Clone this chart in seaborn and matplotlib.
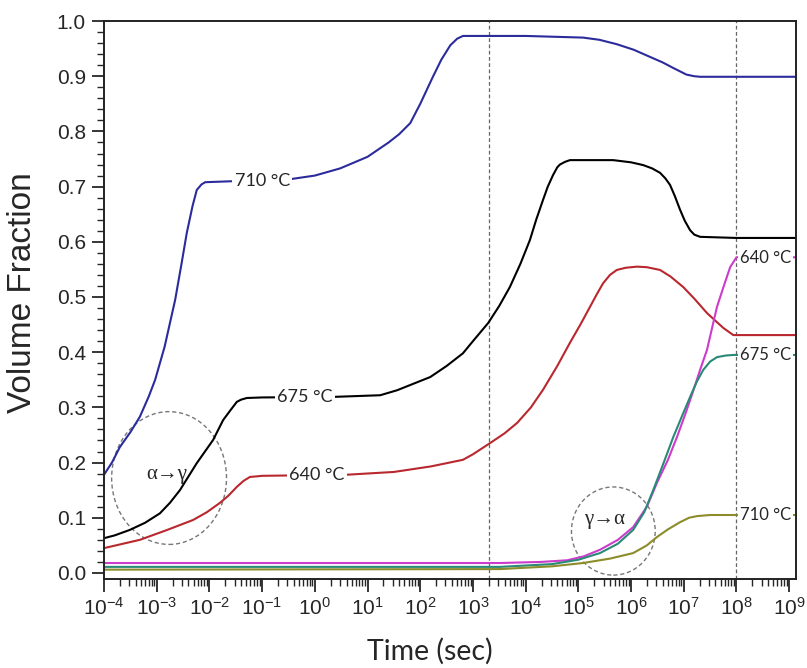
import numpy as np
import pandas as pd
import matplotlib
matplotlib.use("Agg")
import matplotlib.pyplot as plt
from matplotlib.patches import Ellipse
from matplotlib.ticker import MultipleLocator, FormatStrFormatter, LogLocator
import seaborn as sns

# ---- data (time given as log10 exponents, volume fractions) ----
blue_logt = [-4.0, -3.85, -3.70, -3.5, -3.32, -3.15, -3.03, -2.85, -2.65, -2.53, -2.43, -2.32,
             -2.24, -2.15, -2.08, -1.5, -0.43, 0.0, 0.48, 1.0, 1.4, 1.6, 1.81, 2.0, 2.24, 2.4,
             2.57, 2.7, 2.81, 4.0, 5.09, 5.4, 5.73, 6.05, 6.36, 6.6, 6.8, 7.05, 7.2, 7.31, 8.0, 9.13]
blue_y = [0.178, 0.200, 0.228, 0.255, 0.283, 0.320, 0.350, 0.410, 0.495, 0.560, 0.616, 0.665,
          0.694, 0.704, 0.708, 0.710, 0.714, 0.720, 0.733, 0.754, 0.780, 0.795, 0.815, 0.850, 0.899, 0.930,
          0.956, 0.968, 0.973, 0.973, 0.970, 0.966, 0.958, 0.948, 0.935, 0.925, 0.915, 0.903, 0.900, 0.899, 0.899, 0.899]

black_logt = [-4.0, -3.8, -3.51, -3.22, -2.94, -2.75, -2.56, -2.24, -1.93, -1.74, -1.6, -1.48,
              -1.4, -1.29, -1.0, 0.35, 1.24, 1.56, 2.19, 2.5, 2.81, 3.0, 3.29, 3.5, 3.70, 3.9,
              4.08, 4.2, 4.33, 4.42, 4.52, 4.6, 4.65, 4.75, 4.84, 5.66, 6.0, 6.23, 6.4, 6.55,
              6.65, 6.74, 6.83, 6.93, 7.02, 7.12, 7.2, 7.31, 8.0, 9.13]
black_y = [0.063, 0.068, 0.078, 0.091, 0.108, 0.127, 0.150, 0.199, 0.241, 0.277, 0.295, 0.310,
           0.314, 0.317, 0.318, 0.319, 0.322, 0.331, 0.355, 0.375, 0.398, 0.420, 0.453, 0.484, 0.518, 0.560,
           0.603, 0.640, 0.676, 0.700, 0.721, 0.735, 0.740, 0.745, 0.748, 0.748, 0.744, 0.739, 0.733, 0.725,
           0.715, 0.703, 0.683, 0.658, 0.638, 0.621, 0.613, 0.609, 0.607, 0.607]

red_logt = [-4.0, -3.32, -2.8, -2.31, -2.05, -1.8, -1.64, -1.48, -1.35, -1.23, -1.1, -1.0, 0.61,
            1.5, 2.2, 2.81, 3.0, 3.32, 3.6, 3.84, 4.1, 4.33, 4.6, 4.84, 5.05, 5.22, 5.35, 5.47,
            5.6, 5.73, 5.9, 6.11, 6.3, 6.55, 6.75, 6.99, 7.2, 7.44, 7.6, 7.75, 7.94, 8.0, 9.13]
red_y = [0.045, 0.060, 0.078, 0.096, 0.110, 0.127, 0.140, 0.156, 0.167, 0.174, 0.175, 0.176, 0.178,
         0.183, 0.193, 0.205, 0.215, 0.235, 0.253, 0.272, 0.300, 0.332, 0.375, 0.417, 0.452, 0.482, 0.505, 0.525,
         0.540, 0.549, 0.553, 0.555, 0.554, 0.549, 0.537, 0.518, 0.497, 0.471, 0.457, 0.444, 0.431, 0.431, 0.431]

magenta_logt = [-4.0, 3.51, 4.3, 4.79, 5.1, 5.41, 5.75, 6.04, 6.3, 6.49, 6.7, 6.87, 7.03, 7.18,
                7.31, 7.44, 7.63, 7.76, 7.88, 7.96, 8.0, 9.13]
magenta_y = [0.018, 0.018, 0.020, 0.023, 0.030, 0.042, 0.060, 0.083, 0.120, 0.163, 0.205, 0.246, 0.288, 0.330,
             0.368, 0.404, 0.482, 0.520, 0.554, 0.566, 0.572, 0.572]

teal_logt = [-4.0, 3.51, 4.5, 5.0, 5.41, 5.75, 6.04, 6.25, 6.42, 6.6, 6.8, 6.97, 7.12, 7.25,
             7.37, 7.5, 7.63, 7.8, 7.94, 8.0, 9.13]
teal_y = [0.011, 0.011, 0.016, 0.024, 0.036, 0.053, 0.078, 0.110, 0.150, 0.195, 0.246, 0.285, 0.319, 0.347,
          0.368, 0.383, 0.391, 0.394, 0.395, 0.395, 0.395]

olive_logt = [-4.0, 3.51, 4.5, 5.09, 5.6, 6.04, 6.3, 6.49, 6.7, 6.93, 7.1, 7.25, 7.5, 8.0, 9.13]
olive_y = [0.006, 0.007, 0.012, 0.018, 0.026, 0.036, 0.050, 0.065, 0.079, 0.092, 0.100, 0.103, 0.105, 0.105, 0.105]

series_names = ["710 a-g", "675 a-g", "640 a-g", "640 g-a", "675 g-a", "710 g-a"]
series_logt = [blue_logt, black_logt, red_logt, magenta_logt, teal_logt, olive_logt]
series_y = [blue_y, black_y, red_y, magenta_y, teal_y, olive_y]
colors = ["#2b2b9c", "#000000", "#b8282e", "#cc3ccc", "#2a8a78", "#8c8c2a"]

dashed_times = [2000.0, 1e8]

# ---- build table ----
rows = []
for name, lt, yy in zip(series_names, series_logt, series_y):
    for a, b in zip(lt, yy):
        rows.append({"series": name, "time": 10.0 ** a, "fraction": b})
df = pd.DataFrame(rows)

sns.set_style("ticks")
plt.rcParams["font.family"] = ["Liberation Sans", "DejaVu Sans"]
plt.rcParams["mathtext.fontset"] = "custom"
plt.rcParams["mathtext.rm"] = "Liberation Sans"
plt.rcParams["mathtext.it"] = "Liberation Sans:italic"

fig = plt.figure(figsize=(8.07, 6.68), dpi=100)
ax = fig.add_axes([0.1289, 0.1332, 0.8575, 0.8353])

for t in dashed_times:
    ax.axvline(t, color="#666666", lw=0.9, ls=(0, (3, 2)), zorder=1)

sns.lineplot(data=df, x="time", y="fraction", hue="series", palette=dict(zip(series_names, colors)),
             hue_order=series_names, estimator=None, sort=False, legend=False, lw=1.5, ax=ax, zorder=3)

ax.set_xscale("log")
ax.set_xlim(1e-4, 10 ** 9.13)
ax.set_ylim(-0.011, 1.0)

ax.xaxis.set_major_locator(LogLocator(base=10, numticks=20))
ax.xaxis.set_minor_locator(LogLocator(base=10, subs=np.arange(2, 10), numticks=200))
ax.yaxis.set_major_locator(MultipleLocator(0.1))
ax.yaxis.set_minor_locator(MultipleLocator(0.02))
ax.yaxis.set_major_formatter(FormatStrFormatter("%.1f"))

ax.tick_params(which="major", direction="out", length=9, width=1.1, labelsize=15, color="black",
               top=False, right=False, pad=4)
ax.tick_params(which="minor", direction="out", length=5, width=1.0, top=False, right=False)
for sp in ax.spines.values():
    sp.set_color("#222222")
    sp.set_linewidth(1.4)
    sp.set_zorder(7)

lab_font = ["Lato", "DejaVu Sans"]
ax.set_xlabel("Time (sec)", fontsize=20.5, family=lab_font)
ax.set_ylabel("Volume Fraction", fontsize=24, family=["Liberation Sans", "DejaVu Sans"])
ax.xaxis.set_label_coords(0.471, -0.105)
ax.yaxis.set_label_coords(-0.096, 0.513)

bbox = dict(boxstyle="square,pad=0.12", fc="white", ec="none")
ax.text(10 ** -1.0, 0.71, "710 °C", ha="center", va="center", fontsize=13, family=lab_font, bbox=bbox, zorder=5)
ax.text(10 ** -0.19, 0.318, "675 °C", ha="center", va="center", fontsize=13, family=lab_font, bbox=bbox, zorder=5)
ax.text(10 ** 0.04, 0.177, "640 °C", ha="center", va="center", fontsize=13, family=lab_font, bbox=bbox, zorder=5)
ax.text(10 ** 8.06, 0.571, "640 °C", ha="left", va="center", fontsize=12, family=lab_font, bbox=bbox, zorder=5)
ax.text(10 ** 8.06, 0.394, "675 °C", ha="left", va="center", fontsize=12, family=lab_font, bbox=bbox, zorder=5)
ax.text(10 ** 8.06, 0.105, "710 °C", ha="left", va="center", fontsize=12, family=lab_font, bbox=bbox, zorder=5)

ax.add_patch(Ellipse((0.094, 0.181), 0.166, 0.238, transform=ax.transAxes, fill=False,
                     ec="#777777", lw=1.0, ls=(0, (3, 2)), zorder=2))
ax.add_patch(Ellipse((0.736, 0.086), 0.121, 0.158, transform=ax.transAxes, fill=False,
                     ec="#777777", lw=1.0, ls=(0, (3, 2)), zorder=2))
ax.text(0.091, 0.188, "α→γ", transform=ax.transAxes, ha="center", va="center", fontsize=15,
        family=["Liberation Serif", "DejaVu Serif"], zorder=4)
ax.text(0.724, 0.106, "γ→α", transform=ax.transAxes, ha="center", va="center", fontsize=15,
        family=["Liberation Serif", "DejaVu Serif"], zorder=4)

fig.savefig("out.png", dpi=100)
